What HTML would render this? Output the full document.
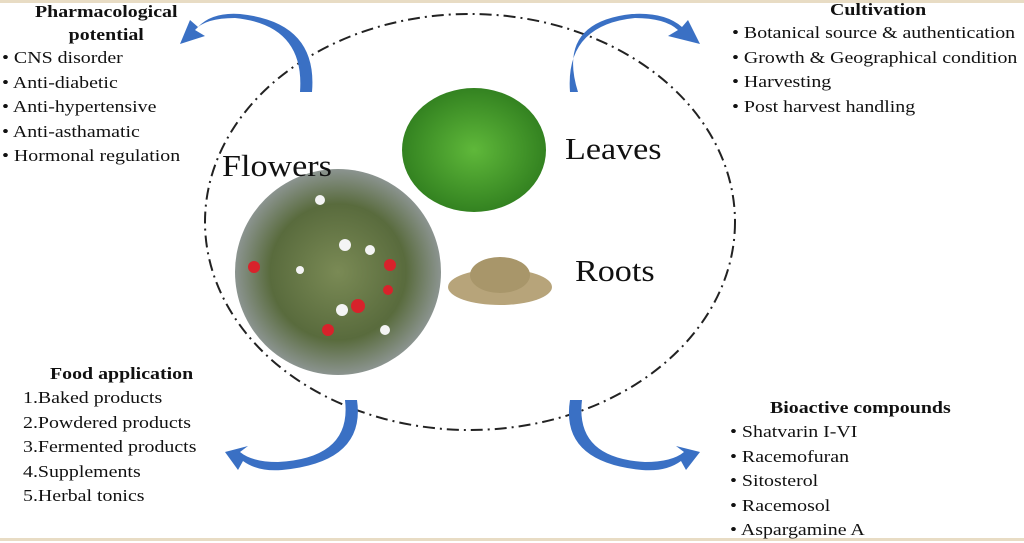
<!DOCTYPE html>
<html><head><style>
body{margin:0;width:1024px;height:541px;background:#fff;position:relative;overflow:hidden;font-family:"Liberation Serif",serif;color:#111}
.t{position:absolute;font-size:17px;line-height:24.5px;white-space:nowrap;transform:scaleX(1.17);transform-origin:0 0}
.h{font-weight:bold}
.big{position:absolute;font-size:31px;transform:scaleX(1.1);transform-origin:0 0}
</style></head><body>
<div style="position:absolute;left:0;top:0;width:1024px;height:3px;background:#e8dcc4"></div>
<div style="position:absolute;left:0;top:538px;width:1024px;height:3px;background:#e8dcc4"></div>
<svg width="1024" height="541" style="position:absolute;left:0;top:0">
<defs>
<radialGradient id="g1" cx="50%" cy="50%" r="55%"><stop offset="0" stop-color="#5fb83a"/><stop offset="1" stop-color="#2f7d1e"/></radialGradient>
<radialGradient id="g2" cx="50%" cy="50%" r="55%"><stop offset="0" stop-color="#7a8a55"/><stop offset="0.6" stop-color="#596b3d"/><stop offset="1" stop-color="#9aa0a8"/></radialGradient>
</defs>
<ellipse cx="470" cy="222" rx="265" ry="208" fill="none" stroke="#222" stroke-width="2" stroke-dasharray="12 5 2 5"/>
<ellipse cx="474" cy="150" rx="72" ry="62" fill="url(#g1)"/>
<circle cx="338" cy="272" r="103" fill="url(#g2)"/>
<g fill="#d8222b"><circle cx="254" cy="267" r="6"/><circle cx="358" cy="306" r="7"/><circle cx="390" cy="265" r="6"/><circle cx="328" cy="330" r="6"/><circle cx="388" cy="290" r="5"/></g>
<g fill="#f4f4f4"><circle cx="345" cy="245" r="6"/><circle cx="370" cy="250" r="5"/><circle cx="342" cy="310" r="6"/><circle cx="385" cy="330" r="5"/><circle cx="320" cy="200" r="5"/><circle cx="300" cy="270" r="4"/></g>
<ellipse cx="500" cy="287" rx="52" ry="18" fill="#b7a47a"/>
<ellipse cx="500" cy="275" rx="30" ry="18" fill="#a8966a"/>
<g fill="#3a70c4">
<path d="M300,92 Q305,25 235,18 Q205,18 195,30 L205,36 L180,44 L190,20 L198,27 Q212,12 240,14 Q318,22 312,92Z"/>
<path d="M570,92 Q565,25 635,18 Q665,18 678,30 L668,36 L700,44 L688,20 L682,27 Q665,12 632,14 Q556,22 578,92Z"/>
<path d="M345,400 Q352,458 278,462 Q252,462 240,452 L248,446 L225,452 L238,470 L243,461 Q258,472 282,470 Q366,462 357,400Z"/>
<path d="M582,400 Q575,458 645,462 Q672,462 684,452 L676,446 L700,452 L686,470 L681,461 Q666,472 642,470 Q560,462 570,400Z"/>
</g>
</svg>
<div class="big" style="left:222px;top:148px">Flowers</div>
<div class="big" style="left:565px;top:131px">Leaves</div>
<div class="big" style="left:575px;top:253px">Roots</div>
<div class="t h" style="left:35px;top:0px;line-height:23px;text-align:center">Pharmacological<br>potential</div>
<div class="t" style="left:2px;top:46px">• CNS disorder<br>• Anti-diabetic<br>• Anti-hypertensive<br>• Anti-asthamatic<br>• Hormonal regulation</div>
<div class="t h" style="left:830px;top:-1px;line-height:22px">Cultivation</div>
<div class="t" style="left:732px;top:21px">• Botanical source &amp; authentication<br>• Growth &amp; Geographical condition<br>• Harvesting<br>• Post harvest handling</div>
<div class="t h" style="left:50px;top:362px">Food application</div>
<div class="t" style="left:23px;top:386px">1.Baked products<br>2.Powdered products<br>3.Fermented products<br>4.Supplements<br>5.Herbal tonics</div>
<div class="t h" style="left:770px;top:396px">Bioactive compounds</div>
<div class="t" style="left:730px;top:420px">• Shatvarin I-VI<br>• Racemofuran<br>• Sitosterol<br>• Racemosol<br>• Aspargamine A</div>
</body></html>
